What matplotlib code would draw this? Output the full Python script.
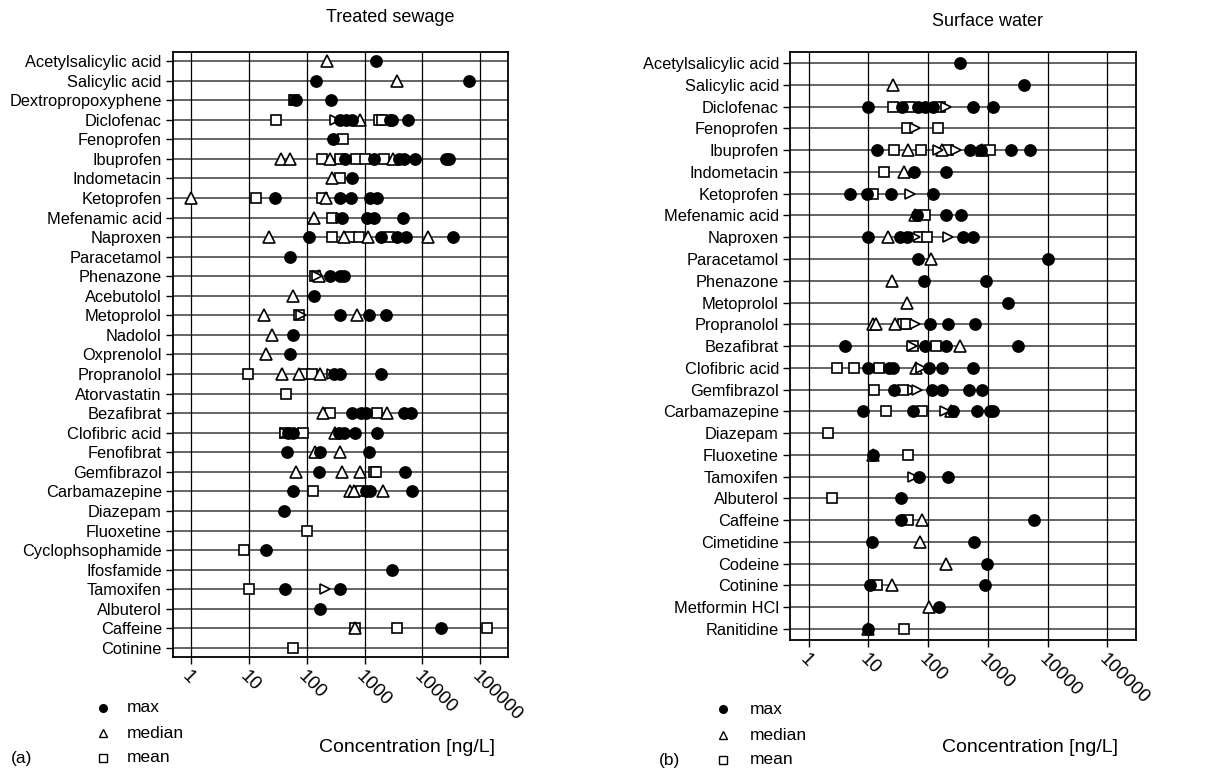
import numpy as np
import matplotlib
matplotlib.use("Agg")
import matplotlib.pyplot as plt

plt.rcParams["font.family"] = ["Liberation Sans", "DejaVu Sans"]

# ─── data: treated sewage (panel a) ──────────────────────────────────────────
SEWAGE_NAMES = [
    "Acetylsalicylic acid", "Salicylic acid", "Dextropropoxyphene", "Diclofenac",
    "Fenoprofen", "Ibuprofen", "Indometacin", "Ketoprofen", "Mefenamic acid",
    "Naproxen", "Paracetamol", "Phenazone", "Acebutolol", "Metoprolol", "Nadolol",
    "Oxprenolol", "Propranolol", "Atorvastatin", "Bezafibrat", "Clofibric acid",
    "Fenofibrat", "Gemfibrazol", "Carbamazepine", "Diazepam", "Fluoxetine",
    "Cyclophsophamide", "Ifosfamide", "Tamoxifen", "Albuterol", "Caffeine",
    "Cotinine",
]
SEWAGE_MAX = {
    "Acetylsalicylic acid": [1550],
    "Salicylic acid": [147, 63000],
    "Dextropropoxyphene": [66, 263],
    "Diclofenac": [370, 470, 610, 2800, 3000, 5600],
    "Fenoprofen": [283],
    "Ibuprofen": [455, 1480, 3960, 4800, 7400, 25000, 29000],
    "Indometacin": [610],
    "Ketoprofen": [28.6, 372, 575, 1260, 1660],
    "Mefenamic acid": [410, 1110, 1480, 4680],
    "Naproxen": [108, 1900, 3700, 5100, 34000],
    "Paracetamol": [52],
    "Phenazone": [257, 372, 437],
    "Acebutolol": [132],
    "Metoprolol": [380, 1180, 2300],
    "Nadolol": [59],
    "Oxprenolol": [51],
    "Propranolol": [294, 380, 1950],
    "Bezafibrat": [610, 850, 1070, 4800, 6300],
    "Clofibric acid": [47, 59, 357, 437, 695, 1660],
    "Fenofibrat": [45.5, 172, 1180],
    "Gemfibrazol": [161, 4900],
    "Carbamazepine": [59, 1070, 1260, 6700],
    "Diazepam": [40],
    "Cyclophsophamide": [20],
    "Ifosfamide": [3000],
    "Tamoxifen": [42.6, 372],
    "Albuterol": [172],
    "Caffeine": [20800],
}
SEWAGE_MEDIAN = {
    "Acetylsalicylic acid": [225],
    "Salicylic acid": [3560],
    "Diclofenac": [830],
    "Ibuprofen": [36, 52, 250, 3150],
    "Indometacin": [275],
    "Ketoprofen": [1, 218],
    "Mefenamic acid": [132],
    "Naproxen": [22, 437, 1150, 12600],
    "Phenazone": [160],
    "Acebutolol": [59],
    "Metoprolol": [18, 740],
    "Nadolol": [25],
    "Oxprenolol": [19.7],
    "Propranolol": [37, 74, 172],
    "Bezafibrat": [191, 2400],
    "Clofibric acid": [313],
    "Fenofibrat": [137, 380],
    "Gemfibrazol": [66, 400, 830],
    "Carbamazepine": [560, 650, 2100],
    "Caffeine": [690],
}
SEWAGE_MEAN = {
    "Dextropropoxyphene": [60],
    "Diclofenac": [30, 1780, 2030],
    "Fenoprofen": [420],
    "Ibuprofen": [185, 380, 700, 1000, 2170],
    "Indometacin": [380],
    "Ketoprofen": [13.4, 185],
    "Mefenamic acid": [275],
    "Naproxen": [275, 570, 815, 2640],
    "Phenazone": [141],
    "Metoprolol": [75],
    "Propranolol": [9.8, 91, 124],
    "Atorvastatin": [44.5],
    "Bezafibrat": [250, 1650],
    "Clofibric acid": [43, 86],
    "Gemfibrazol": [1450, 1550],
    "Carbamazepine": [129, 850],
    "Fluoxetine": [100],
    "Cyclophsophamide": [8.1],
    "Tamoxifen": [10.2],
    "Caffeine": [690, 3560, 130000],
    "Cotinine": [58],
}
SEWAGE_OTHER = {
    "Dextropropoxyphene": [62],
    "Diclofenac": [313],
    "Mefenamic acid": [390],
    "Phenazone": [150],
    "Metoprolol": [80],
    "Propranolol": [275],
    "Clofibric acid": [42],
    "Tamoxifen": [210],
}

# ─── data: surface water (panel b) ───────────────────────────────────────────
SURFACE_NAMES = [
    "Acetylsalicylic acid", "Salicylic acid", "Diclofenac", "Fenoprofen",
    "Ibuprofen", "Indometacin", "Ketoprofen", "Mefenamic acid", "Naproxen",
    "Paracetamol", "Phenazone", "Metoprolol", "Propranolol", "Bezafibrat",
    "Clofibric acid", "Gemfibrazol", "Carbamazepine", "Diazepam", "Fluoxetine",
    "Tamoxifen", "Albuterol", "Caffeine", "Cimetidine", "Codeine", "Cotinine",
    "Metformin HCl", "Ranitidine",
]
SURFACE_MAX = {
    "Acetylsalicylic acid": [336],
    "Salicylic acid": [4060],
    "Diclofenac": [9.7, 36, 68, 88, 121, 560, 1210],
    "Ibuprofen": [13.8, 495, 776, 2450, 5100],
    "Indometacin": [58.5, 202],
    "Ketoprofen": [4.9, 9.4, 23.6, 121],
    "Mefenamic acid": [65, 196, 361],
    "Naproxen": [10, 33.6, 44.6, 383, 560],
    "Paracetamol": [68, 10000],
    "Phenazone": [85, 935],
    "Metoprolol": [2150],
    "Propranolol": [107, 215, 600],
    "Bezafibrat": [4.1, 88, 202, 3170],
    "Clofibric acid": [9.7, 22.4, 25.5, 104, 170, 560],
    "Gemfibrazol": [26.8, 114, 173, 480, 790],
    "Carbamazepine": [8.3, 56, 260, 660, 1070, 1240],
    "Fluoxetine": [12.1],
    "Tamoxifen": [71, 215],
    "Albuterol": [35],
    "Caffeine": [35, 5800],
    "Cimetidine": [11.4, 585],
    "Codeine": [975],
    "Cotinine": [10.6, 880],
    "Metformin HCl": [152],
    "Ranitidine": [10],
}
SURFACE_MEDIAN = {
    "Salicylic acid": [25.5],
    "Ibuprofen": [46, 172, 800],
    "Indometacin": [40],
    "Mefenamic acid": [60],
    "Naproxen": [21.5],
    "Paracetamol": [110],
    "Phenazone": [24.5],
    "Metoprolol": [44.6],
    "Propranolol": [11.8, 13.4, 27.8],
    "Bezafibrat": [345],
    "Clofibric acid": [62],
    "Carbamazepine": [245],
    "Fluoxetine": [12.1],
    "Caffeine": [80],
    "Cimetidine": [72],
    "Codeine": [196],
    "Cotinine": [24.5],
    "Metformin HCl": [104],
    "Ranitidine": [10],
}
SURFACE_MEAN = {
    "Diclofenac": [25.5, 49.5, 156],
    "Fenoprofen": [44.6, 146],
    "Ibuprofen": [26.8, 77, 215, 1100],
    "Indometacin": [18.3],
    "Ketoprofen": [12.1],
    "Mefenamic acid": [88],
    "Naproxen": [71, 94],
    "Propranolol": [38, 43.5],
    "Bezafibrat": [56, 138],
    "Clofibric acid": [3.0, 5.8, 15.2],
    "Gemfibrazol": [12.4, 38],
    "Carbamazepine": [19.7, 80],
    "Diazepam": [2.15],
    "Fluoxetine": [46],
    "Albuterol": [2.5],
    "Caffeine": [46],
    "Cotinine": [14.1],
    "Ranitidine": [39],
}
SURFACE_OTHER = {
    "Diclofenac": [202],
    "Fenoprofen": [60],
    "Ibuprofen": [146, 295],
    "Ketoprofen": [49.5],
    "Naproxen": [60, 215],
    "Propranolol": [60],
    "Bezafibrat": [54],
    "Clofibric acid": [77],
    "Gemfibrazol": [56, 66],
    "Carbamazepine": [190],
    "Tamoxifen": [55],
}

DECADES = [1, 10, 100, 1000, 10000, 100000]
DECADE_LABELS = ["1", "10", "100", "1000", "10000", "100000"]

FS = 11.8


def scatter_stat(ax, names, stat, marker, ms, fill):
    for name, vals in stat.items():
        y = names.index(name)
        ax.plot(vals, [y] * len(vals), ls="none", marker=marker, ms=ms,
                mfc=fill, mec="black", mew=1.2, zorder=3)


def draw_panel(ax, names, mx, med, mean, other, margin):
    n = len(names)
    ax.set_xscale("log")
    ax.set_xlim(0.49, 3.0e5)
    ax.set_ylim(n - 1 + margin, -margin)
    for i in range(n):
        ax.axhline(i, color="#3a3a3a", lw=1.1, zorder=1)
    for d in DECADES:
        ax.axvline(d, color="black", lw=0.9, zorder=1)
    scatter_stat(ax, names, mean, "s", 7, "white")
    scatter_stat(ax, names, med, "^", 8.5, "white")
    scatter_stat(ax, names, other, ">", 7.5, "white")
    scatter_stat(ax, names, mx, "o", 8, "black")
    ax.set_yticks(range(n))
    ax.set_yticklabels(names, fontsize=FS)
    ax.set_xticks(DECADES)
    ax.set_xticklabels(DECADE_LABELS, fontsize=13.5, rotation=-45,
                       ha="left", va="top", rotation_mode="anchor")
    ax.xaxis.set_minor_locator(matplotlib.ticker.NullLocator())
    ax.tick_params(axis="both", direction="out", length=5, width=1, pad=3)
    ax.tick_params(axis="x", pad=3)
    for sp in ax.spines.values():
        sp.set_linewidth(1.3)


fig = plt.figure(figsize=(12.13, 7.70), dpi=100)
ax_a = fig.add_axes([0.1426, 0.1468, 0.2762, 0.7857])
ax_b = fig.add_axes([0.6513, 0.1688, 0.2852, 0.7636])

draw_panel(ax_a, SEWAGE_NAMES, SEWAGE_MAX, SEWAGE_MEDIAN, SEWAGE_MEAN,
           SEWAGE_OTHER, 0.46)
draw_panel(ax_b, SURFACE_NAMES, SURFACE_MAX, SURFACE_MEDIAN, SURFACE_MEAN,
           SURFACE_OTHER, 0.505)

fig.text(390 / 1213, 1 - 18 / 770, "Treated sewage", fontsize=13,
         ha="center", va="center")
fig.text(988 / 1213, 1 - 22 / 770, "Surface water", fontsize=13,
         ha="center", va="center")

# legends and labels under each panel
for x_mk, ys, x_lab, lab, x_tag, x_conc in [
    (103, (708, 733, 758), 127, "(a)", 22, 407),
    (723, (709, 735, 760), 750, "(b)", 670, 1030),
]:
    for y, mk, fill, txt in zip(ys, ["o", "^", "s"], ["black", "white", "white"],
                                ["max", "median", "mean"]):
        fig.lines.append(matplotlib.lines.Line2D(
            [x_mk / 1213], [1 - y / 770], transform=fig.transFigure,
            marker=mk, ms=5.5, mfc=fill, mec="black", mew=1, ls="none"))
        fig.text(x_lab / 1213, 1 - y / 770, txt, fontsize=12.5, va="center")
    fig.text(x_tag / 1213, 1 - ys[2] / 770, lab, fontsize=12.5, ha="center",
             va="center")
    fig.text(x_conc / 1213, 1 - 748 / 770, "Concentration [ng/L]",
             fontsize=14, ha="center", va="center")

fig.savefig("out.png", dpi=100)
